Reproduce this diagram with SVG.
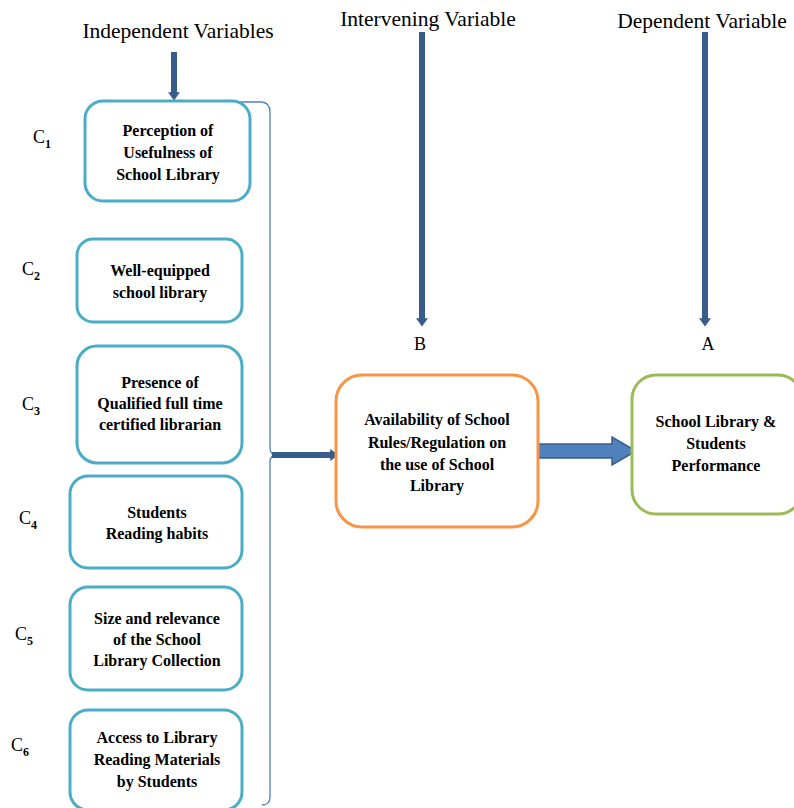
<svg xmlns="http://www.w3.org/2000/svg" width="794" height="808" viewBox="0 0 794 808">
<style>
.t{font-family:"Liberation Serif","Times New Roman",serif;fill:#000}
.h{font-size:21.5px}
.b{font-family:"Liberation Serif","Times New Roman",serif;font-size:16px;font-weight:bold;text-anchor:middle}
.c{font-size:18px}
.s{font-size:12px;font-weight:bold}
.ib{fill:#fff;stroke:#4bacc6;stroke-width:3}
.ar{stroke:#385d8a;stroke-width:6;fill:none}
</style>
<defs>
<marker id="ah" markerWidth="2" markerHeight="2" refX="0.3" refY="1" orient="auto" markerUnits="strokeWidth">
<path d="M0,0 L1.4,1 L0,2 z" fill="#385d8a"/>
</marker>
</defs>
<rect width="794" height="808" fill="#fff"/>
<g id="titles">
<text class="t h" x="178" y="38" text-anchor="middle">Independent Variables</text>
<text class="t h" x="428" y="26" text-anchor="middle">Intervening Variable</text>
<text class="t h" x="702" y="28" text-anchor="middle">Dependent Variable</text>
<text class="t c" x="420" y="350" text-anchor="middle">B</text>
<text class="t c" x="708" y="350" text-anchor="middle">A</text>
</g>
<g id="labels">
<text class="t c" x="33" y="143">C<tspan class="s" dy="5">1</tspan></text>
<text class="t c" x="22" y="275">C<tspan class="s" dy="5">2</tspan></text>
<text class="t c" x="22" y="410">C<tspan class="s" dy="5">3</tspan></text>
<text class="t c" x="19" y="524">C<tspan class="s" dy="5">4</tspan></text>
<text class="t c" x="15" y="640">C<tspan class="s" dy="5">5</tspan></text>
<text class="t c" x="11" y="751">C<tspan class="s" dy="5">6</tspan></text>
</g>
<g id="connectors">
<line class="ar" x1="174" y1="52" x2="174" y2="94" marker-end="url(#ah)"/>
<line class="ar" x1="422" y1="32" x2="422" y2="320" marker-end="url(#ah)"/>
<line class="ar" x1="705" y1="32" x2="705" y2="320" marker-end="url(#ah)"/>
<path d="M238,102 L262,102 Q270,103 270,112 L270,448 Q270,455 277,455 Q270,455 270,462 L270,797 Q270,805 262,805" fill="none" stroke="#4f81bd" stroke-width="1.3"/>
<line class="ar" x1="272" y1="455" x2="332" y2="455" marker-end="url(#ah)"/>
<path d="M538,444 L612,444 L612,437 L636,451 L612,465 L612,458 L538,458 z" fill="#4f81bd" stroke="#385d8a" stroke-width="1.5"/>
</g>
<g id="c1"><rect class="ib" x="85" y="101" width="165" height="100" rx="18"/>
<text class="b" x="168" y="136">Perception of</text><text class="b" x="168" y="158">Usefulness of</text><text class="b" x="168" y="180">School Library</text></g>
<g id="c2"><rect class="ib" x="77" y="239" width="165" height="83" rx="16"/>
<text class="b" x="160" y="276">Well-equipped</text><text class="b" x="160" y="298">school library</text></g>
<g id="c3"><rect class="ib" x="77" y="346" width="165" height="117" rx="20"/>
<text class="b" x="160" y="388">Presence of</text><text class="b" x="160" y="409">Qualified full time</text><text class="b" x="160" y="430">certified librarian</text></g>
<g id="c4"><rect class="ib" x="70" y="476" width="172" height="92" rx="18"/>
<text class="b" x="157" y="518">Students</text><text class="b" x="157" y="539">Reading habits</text></g>
<g id="c5"><rect class="ib" x="70" y="587" width="172" height="103" rx="18"/>
<text class="b" x="157" y="624">Size and relevance</text><text class="b" x="157" y="645">of the School</text><text class="b" x="157" y="666">Library Collection</text></g>
<g id="c6"><rect class="ib" x="70" y="710" width="172" height="100" rx="18"/>
<text class="b" x="157" y="743">Access to Library</text><text class="b" x="157" y="765">Reading Materials</text><text class="b" x="157" y="787">by Students</text></g>
<g id="b"><rect x="336" y="375" width="202" height="152" rx="26" fill="#fff" stroke="#f79646" stroke-width="3"/>
<text class="b" x="437" y="425">Availability of School</text><text class="b" x="437" y="448">Rules/Regulation on</text><text class="b" x="437" y="470">the use of School</text><text class="b" x="437" y="491">Library</text></g>
<g id="a"><rect x="632" y="375" width="170" height="139" rx="24" fill="#fff" stroke="#9bbb59" stroke-width="3"/>
<text class="b" x="716" y="427">School Library &amp;</text><text class="b" x="716" y="449">Students</text><text class="b" x="716" y="471">Performance</text></g>
</svg>
